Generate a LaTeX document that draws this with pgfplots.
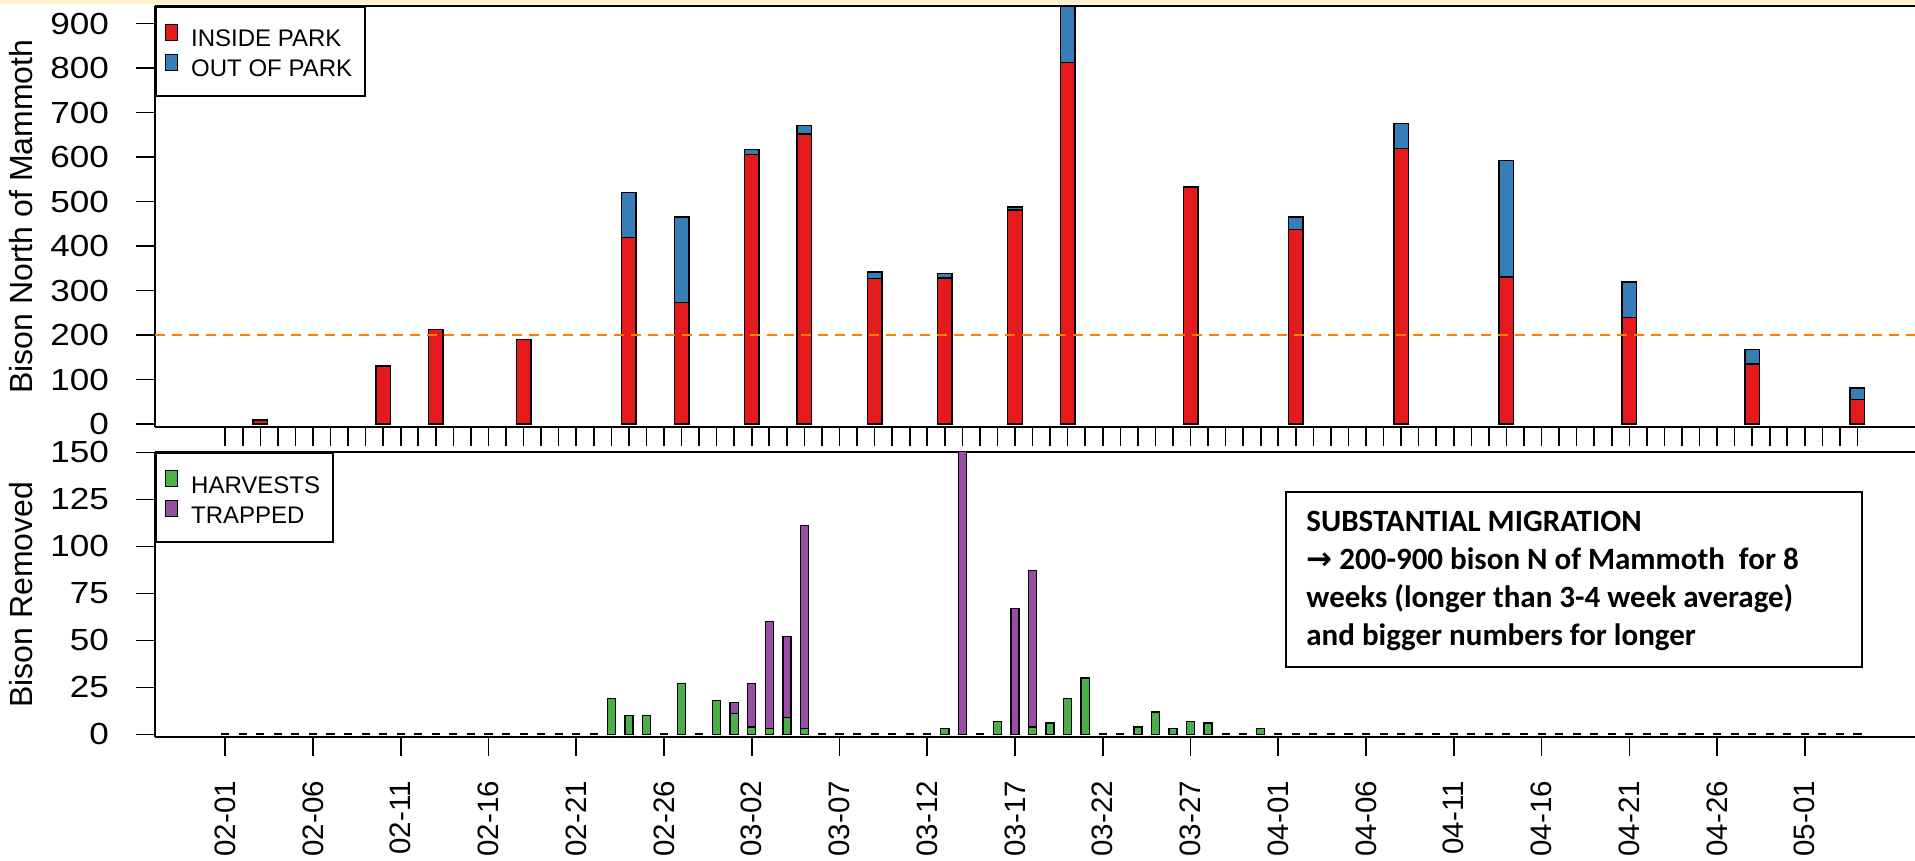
\documentclass[border=0pt]{standalone}
\usepackage{pgfplots}
\pgfplotsset{compat=1.18}
\usepackage{pgfplotstable}
\usepackage{fontspec}
\setmainfont{Liberation Sans}
\newfontfamily\wideticks{Liberation Sans}[FakeStretch=1.15]
\newfontfamily\carlito{Carlito}
\newfontfamily\dejavu{DejaVu Sans}
\definecolor{cin}{HTML}{E41A1C}
\definecolor{cout}{HTML}{377EB8}
\definecolor{char}{HTML}{4DAF4A}
\definecolor{ctrap}{HTML}{984EA3}
\definecolor{corange}{HTML}{FF7F00}
\definecolor{cstrip}{HTML}{FFF2CC}

\pgfplotstableread{
day in out
2 9 0
9 131 0
12 213 0
17 190 0
23 419 101
26 273 192
30 606 11
33 652 19
37 327 15
41 328 10
45 481 7
48 812 160
55 533 0
61 437 28
67 619 56
73 331 262
80 239 80
87 135 33
93 56 25
}\toptable

\pgfplotstableread{
day harv trap
22 19 0
23 10 0
24 10 0
26 27 0
28 18 0
29 11 6
30 4 23
31 3 57
32 9 43
33 3 108
41 3 0
42 0 160
44 7 0
45 0 67
46 4 83
47 6 0
48 19 0
49 30 0
52 4 0
53 12 0
54 3 0
55 7 0
56 6 0
59 3 0
}\bottable

% days with no animals removed (drawn as zero-height bars)
\pgfplotstableread{
day removed
0 0
1 0
2 0
3 0
4 0
5 0
6 0
7 0
8 0
9 0
10 0
11 0
12 0
13 0
14 0
15 0
16 0
17 0
18 0
19 0
20 0
21 0
25 0
27 0
34 0
35 0
36 0
37 0
38 0
39 0
40 0
43 0
50 0
51 0
57 0
58 0
60 0
61 0
62 0
63 0
64 0
65 0
66 0
67 0
68 0
69 0
70 0
71 0
72 0
73 0
74 0
75 0
76 0
77 0
78 0
79 0
80 0
81 0
82 0
83 0
84 0
85 0
86 0
87 0
88 0
89 0
90 0
91 0
92 0
93 0
}\zerotable

\pgfplotsset{
  base/.style={
    scale only axis, width=880pt,
    xmin=-4, xmax=96.28,
    axis x line*=box, axis y line*=left,
    tick pos=left,
    axis line style={line width=1pt, black},
    tick align=outside,
    major tick length=9.5pt,
    every tick/.style={black, line width=0.8pt},
    minor tick num=0,
    ticklabel style={font=\fontsize{14.75}{14.75}\selectfont},
    yticklabel style={font=\wideticks\fontsize{15.25}{15.25}\selectfont, xshift=-10pt},
    /pgf/number format/assume math mode=true,
    label style={font=\fontsize{16}{16}\selectfont},
    ylabel style={at={(rel axis cs:-0.06932,0.5)}, anchor=base},
    legend cell align=left,
    legend style={at={(0,1)}, anchor=north west, draw=black, line width=0.8pt,
      fill=white, font=\fontsize{12}{12}\selectfont,
      inner xsep=4.5pt, inner ysep=7.5pt, row sep=0.5pt,
      nodes={inner sep=2pt, text height=10.5pt, text depth=0pt},
      /tikz/every odd column/.append style={column sep=4.5pt}},
    legend image code/.code={%
      \path (0pt,0pt) (7.5pt,0pt);
      \draw[##1, line width=0.6pt] (3pt,1.6pt) rectangle (7.5pt,7.1pt);},
  }
}

\begin{document}
\begin{tikzpicture}
\fill[cstrip] (0pt,0pt) rectangle (957.5pt,-2pt);
\begin{axis}[base,
  at={(77.5pt,-3pt)}, anchor=north west,
  height=210.65pt,
  ymin=-7, ymax=939.5,
  ytick={0,100,...,900},
  xtick={0,...,93}, xticklabels={},
  extra y ticks={200}, extra y tick labels={},
  extra y tick style={grid=major,
    major grid style={corange, line width=0.8pt, dash pattern=on 5pt off 3.5pt}},
  axis on top,
  ylabel={Bison North of Mammoth},
  ybar stacked, bar width=0.83,
]
\addplot[fill=cin, draw=black, line width=0.7pt] table[x=day,y=in]{\toptable};
\addplot[fill=cout, draw=black, line width=0.7pt] table[x=day,y=out]{\toptable};
\legend{INSIDE PARK, OUT OF PARK}
\end{axis}
% zero-removal days, drawn as flat bar outlines
\begin{axis}[base,
  at={(77.5pt,-226.15pt)}, anchor=north west,
  height=142.4pt, ymin=-1.44, ymax=150, hide axis]
\addplot[only marks, mark=-, mark size=2.02pt, mark options={black, line width=1pt}]
  table[x=day,y=removed]{\zerotable};
\end{axis}
\begin{axis}[base,
  at={(77.5pt,-226.15pt)}, anchor=north west,
  height=142.4pt,
  ymin=-1.44, ymax=150,
  ytick={0,25,...,150},
  xtick={0,5,...,90},
  xticklabels={02-01,02-06,02-11,02-16,02-21,02-26,03-02,03-07,03-12,03-17,03-22,03-27,04-01,04-06,04-11,04-16,04-21,04-26,05-01},
  xticklabel style={yshift=-9pt, rotate=90, anchor=east},
  ylabel={Bison Removed},
  ybar stacked, bar width=0.46,
]
\addplot[fill=char, draw=black, line width=0.7pt] table[x=day,y=harv]{\bottable};
\addplot[fill=ctrap, draw=black, line width=0.7pt] table[x=day,y=trap]{\bottable};
\legend{HARVESTS, TRAPPED}
\end{axis}
\draw[line width=1pt] (643pt,-246pt) rectangle (931pt,-333.5pt);
\begin{scope}[every node/.style={anchor=base west, inner sep=0pt, font=\carlito\bfseries\fontsize{15.5}{19}\selectfont}]
\node at (653pt,-265.7pt) {SUBSTANTIAL MIGRATION};
\node at (653pt,-284.8pt) {{\dejavu\bfseries →} 200-900 bison N of Mammoth\ \ for 8};
\node at (653pt,-303.9pt) {weeks (longer than 3-4 week average)};
\node at (653pt,-322.8pt) {and bigger numbers for longer};
\end{scope}
\pgfresetboundingbox
\path[use as bounding box] (0pt,0pt) rectangle (957.5pt,-430.5pt);
\end{tikzpicture}
\end{document}
